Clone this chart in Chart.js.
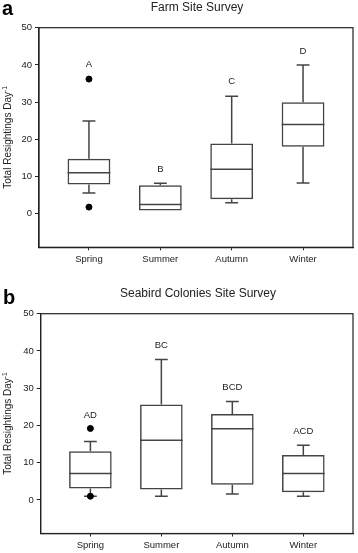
<!DOCTYPE html>
<html>
<head>
<meta charset="utf-8">
<script src="https://cdn.jsdelivr.net/npm/chart.js@4.4.0/dist/chart.umd.min.js"></script>
<style>
html, body { margin: 0; padding: 0; background: #fff; }
#wrap { position: relative; width: 358px; height: 553px; }
canvas { position: absolute; left: 0; }
</style>
</head>
<body>
<div id="wrap">
  <canvas id="farm" width="358" height="276" style="top:0"></canvas>
  <canvas id="seabird" width="358" height="277" style="top:276px"></canvas>
</div>
<script>
// categories and axis ticks
var seasons = ["Spring", "Summer", "Autumn", "Winter"];
var yTicks = [0, 10, 20, 30, 40, 50];

// panel a - farm site survey
var farmLow = [5.6, 0.9, 3.0, 8.3];
var farmQ1 = [7.9, 0.9, 3.9, 18.0];
var farmMedian = [11.0, 2.5, 12.0, 24.0];
var farmQ3 = [14.8, 7.7, 18.9, 30.0];
var farmHigh = [24.9, 8.2, 31.6, 40.0];
var farmOutlierX = [1, 1];
var farmOutlierY = [36.2, 1.8];
var farmLetters = ["A", "B", "C", "D"];
var farmLetterY = [40.2, 12.0, 35.6, 43.6];

// panel b - seabird colonies site survey
var seabirdLow = [1.0, 1.0, 1.6, 1.0];
var seabirdQ1 = [3.1, 2.8, 4.1, 2.1];
var seabirdMedian = [7.1, 16.0, 19.1, 7.1];
var seabirdQ3 = [13.1, 25.6, 23.1, 12.1];
var seabirdHigh = [15.7, 37.7, 26.4, 14.7];
var seabirdOutlierX = [1, 1];
var seabirdOutlierY = [19.2, 1.0];
var seabirdLetters = ["AD", "BC", "BCD", "ACD"];
var seabirdLetterY = [22.8, 41.4, 30.3, 18.5];

var FONT = '"Liberation Sans", Arial, sans-serif';
var LINE = "#444";
var TEXT = "#222";
Chart.defaults.font.family = FONT;

function boxPlot(id, set) {
  var parts = {
    id: "boxParts",
    beforeDraw: function(chart) {
      var ctx = chart.ctx;
      ctx.save();
      ctx.fillStyle = "#fff";
      ctx.fillRect(0, 0, chart.width, chart.height);
      ctx.restore();
    },
    beforeDatasetsDraw: function(chart) {
      var ctx = chart.ctx, y = chart.scales.y;
      var bars = chart.getDatasetMeta(0).data;
      ctx.save();
      ctx.strokeStyle = LINE;
      ctx.lineWidth = 1.5;
      ctx.fillStyle = TEXT;
      ctx.font = "9.5px " + FONT;
      ctx.textAlign = "center";
      ctx.textBaseline = "middle";
      bars.forEach(function(bar, i) {
        var cx = bar.x, half = bar.width / 2, cap = bar.width * 0.15;
        var yMed = y.getPixelForValue(set.median[i]);
        var yQ1 = y.getPixelForValue(set.q1[i]);
        var yQ3 = y.getPixelForValue(set.q3[i]);
        var yLow = y.getPixelForValue(set.low[i]);
        var yHigh = y.getPixelForValue(set.high[i]);
        ctx.beginPath();
        ctx.moveTo(cx - half, yMed);
        ctx.lineTo(cx + half, yMed);
        if (set.high[i] > set.q3[i]) {
          ctx.moveTo(cx, yQ3); ctx.lineTo(cx, yHigh);
          ctx.moveTo(cx - cap, yHigh); ctx.lineTo(cx + cap, yHigh);
        }
        if (set.low[i] < set.q1[i]) {
          ctx.moveTo(cx, yQ1); ctx.lineTo(cx, yLow);
          ctx.moveTo(cx - cap, yLow); ctx.lineTo(cx + cap, yLow);
        }
        ctx.stroke();
        ctx.fillText(set.letters[i], cx, y.getPixelForValue(set.letterY[i]));
      });
      ctx.restore();
    },
    afterDraw: function(chart) {
      var ctx = chart.ctx, a = chart.chartArea;
      ctx.save();
      // frame around the plot
      ctx.strokeStyle = "#222";
      ctx.lineWidth = 1.2;
      ctx.strokeRect(a.left, a.top, a.right - a.left, a.bottom - a.top);
      // panel letter and title
      ctx.fillStyle = "#000";
      ctx.font = "bold 20px " + FONT;
      ctx.textAlign = "left";
      ctx.textBaseline = "alphabetic";
      ctx.fillText(set.panel, set.panelX, set.panelY);
      ctx.fillStyle = TEXT;
      ctx.font = "12px " + FONT;
      ctx.textAlign = "center";
      ctx.fillText(set.title, set.titleX, set.titleY);
      // y axis title with superscript
      var main = "Total Resightings Day", sup = "-1";
      ctx.font = "10px " + FONT;
      var w1 = ctx.measureText(main).width;
      ctx.font = "6.5px " + FONT;
      var w2 = ctx.measureText(sup).width;
      ctx.translate(11, (a.top + a.bottom) / 2);
      ctx.rotate(-Math.PI / 2);
      ctx.textAlign = "left";
      ctx.font = "10px " + FONT;
      ctx.fillText(main, -(w1 + w2) / 2, 0);
      ctx.font = "6.5px " + FONT;
      ctx.fillText(sup, -(w1 + w2) / 2 + w1, -4.5);
      ctx.restore();
    }
  };

  return new Chart(document.getElementById(id), {
    type: "bar",
    data: {
      datasets: [{
        type: "bar",
        data: seasons.map(function(s, i) { return { x: i + 1, y: [set.q1[i], set.q3[i]] }; }),
        backgroundColor: "rgba(0,0,0,0)",
        borderColor: LINE,
        borderWidth: 1.5,
        borderSkipped: false,
        categoryPercentage: 1,
        barPercentage: 0.6
      }, {
        type: "scatter",
        data: set.outX.map(function(x, i) { return { x: x, y: set.outY[i] }; }),
        pointRadius: 3,
        pointBackgroundColor: "#000",
        pointBorderColor: "#000",
        order: -1
      }]
    },
    options: {
      responsive: false,
      animation: false,
      layout: { padding: { top: set.padTop, right: set.padRight, left: 0, bottom: 0 } },
      plugins: { legend: { display: false }, tooltip: { enabled: false } },
      scales: {
        x: {
          type: "linear",
          min: 0.3,
          max: 4.7,
          offset: false,
          afterBuildTicks: function(s) { s.ticks = seasons.map(function(c, i) { return { value: i + 1 }; }); },
          afterFit: function(s) { s.height = set.xHeight; },
          ticks: {
            callback: function(v) { return seasons[v - 1]; },
            font: { size: 9.5 },
            color: TEXT,
            padding: 3,
            maxRotation: 0,
            autoSkip: false
          },
          grid: { offset: false, drawOnChartArea: false, tickLength: 3, color: "#222" },
          border: { color: "#222", width: 1.2 }
        },
        y: {
          min: -9,
          max: 50,
          afterBuildTicks: function(s) { s.ticks = yTicks.map(function(v) { return { value: v }; }); },
          afterFit: function(s) { s.width = set.yWidth; },
          ticks: { font: { size: 9.5 }, color: TEXT, padding: 3 },
          grid: { drawOnChartArea: false, tickLength: 4, color: "#222" },
          border: { color: "#222", width: 1.2 }
        }
      }
    },
    plugins: [parts]
  });
}

boxPlot("farm", {
  low: farmLow, q1: farmQ1, median: farmMedian, q3: farmQ3, high: farmHigh,
  outX: farmOutlierX, outY: farmOutlierY,
  letters: farmLetters, letterY: farmLetterY,
  panel: "a", panelX: 2, panelY: 15,
  title: "Farm Site Survey", titleX: 197, titleY: 10.5,
  padTop: 27.7, padRight: 4, xHeight: 28.7, yWidth: 39
});

boxPlot("seabird", {
  low: seabirdLow, q1: seabirdQ1, median: seabirdMedian, q3: seabirdQ3, high: seabirdHigh,
  outX: seabirdOutlierX, outY: seabirdOutlierY,
  letters: seabirdLetters, letterY: seabirdLetterY,
  panel: "b", panelX: 3, panelY: 27.5,
  title: "Seabird Colonies Site Survey", titleX: 198, titleY: 21,
  padTop: 37.7, padRight: 2, xHeight: 19.5, yWidth: 40.7
});
</script>
</body>
</html>
